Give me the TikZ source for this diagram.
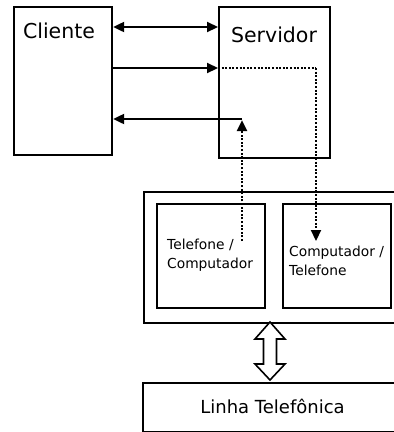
\documentclass[tikz,border=0pt]{standalone}
\usepackage{fontspec}
\setmainfont{DejaVu Sans}
\usetikzlibrary{arrows.meta,calc}
\tikzset{
  box/.style={draw, line width=2.2pt, inner sep=0pt, anchor=north west},
  bigtxt/.style={font=\fontsize{20.5}{24}\selectfont, anchor=base, inner sep=0pt},
  smalltxt/.style={font=\fontsize{13.8}{18.5}\selectfont, align=left, anchor=base west, inner sep=0pt},
  tip/.style={Triangle[length=11pt,width=10pt]},
  arr/.style={line width=2.2pt, -{Triangle[length=11pt,width=10pt]}},
  dotline/.style={line width=2.2pt, dash pattern=on 2pt off 1.6pt},
  dotarr/.style={dotline, -{Triangle[length=11pt,width=10pt]}},
}
\begin{document}
\begin{tikzpicture}[x=1pt,y=-1pt]
\useasboundingbox (0,0) rectangle (394,432);
\clip (0,0) rectangle (394,432);

% client and server blocks
\node[box, minimum width=98, minimum height=148] (cli) at (13,6) {};
\node[bigtxt] (clitxt) at (59,38) {Cliente};
\node[box, minimum width=111, minimum height=151] (srv) at (218,6) {};
\node[bigtxt] (srvtxt) at (274,42) {Servidor};

% modem enclosure (runs off the right edge)
\node[box, minimum width=300, minimum height=131] (modem) at (143,191) {};
\node[box, minimum width=108, minimum height=104] (b1) at (156,203) {};
\node[box, minimum width=108, minimum height=104] (b2) at (282,203) {};
\node[smalltxt] (t1) at (167,268) {Telefone /\\Computador};
\node[smalltxt] (t2) at (289,275) {Computador /\\Telefone};

% telephone line
\node[box, minimum width=300, minimum height=49] (linha) at (142,382) {};
\node[bigtxt, font=\fontsize{18}{22}\selectfont] (linhatxt) at (272.5,413) {Linha Telefônica};

% client <-> server links
\draw[line width=2.2pt, {Triangle[length=11pt,width=10pt]}-{Triangle[length=11pt,width=10pt]}]
  ([yshift=-21pt]cli.north east) -- ([yshift=-21pt]srv.north west);
\draw[arr] ([yshift=-62pt]cli.north east) -- ([yshift=-62pt]srv.north west);

% server to modem (outgoing)
\coordinate (c1) at (316,68);
\coordinate (c2) at (316,241);
\draw[dotline] ([yshift=-62pt]srv.north west) -- (c1);
\draw[dotarr] (c1) -- (c2);

% modem to client (incoming)
\coordinate (c3) at (242,241);
\coordinate (c4) at (242,119);
\draw[dotarr] (c3) -- ([yshift=-1.1pt]c4);
\draw[arr] (c4) -- (cli.east |- c4);

% hollow double arrow between modem and line
\coordinate (ha) at (270,322);
\draw[line width=1.6pt, fill=white, line join=miter]
  (ha) -- ++(15,17) -- ++(-8.5,0) -- ++(0,25) -- ++(8.5,0) -- (270,380)
  -- (255,364) -- ++(8.5,0) -- ++(0,-25) -- ++(-8.5,0) -- cycle;
\end{tikzpicture}
\end{document}
